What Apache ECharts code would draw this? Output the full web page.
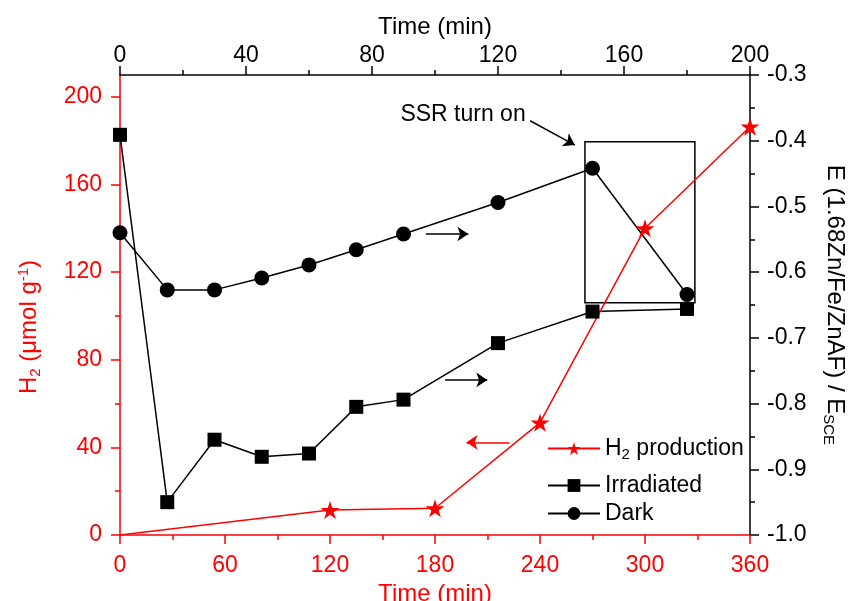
<!DOCTYPE html>
<html>
<head>
<meta charset="utf-8">
<script src="https://cdn.jsdelivr.net/npm/echarts@6/dist/echarts.min.js"></script>
<style>
  html, body { margin: 0; padding: 0; background: #fff; }
  #chart { width: 850px; height: 601px; }
</style>
</head>
<body>
<div id="chart"></div>
<script>
// H2 production vs time (bottom / left axes)
const h2Time = [0, 120, 180, 240, 300, 360];
const h2Value = [0, 11.4, 12.2, 51.3, 140, 186.4];

// potential vs time (top / right axes)
const eTime = [0, 15, 30, 45, 60, 75, 90, 120, 150, 180];
const irradiated = [-0.391, -0.950, -0.855, -0.881, -0.876, -0.805, -0.794, -0.708, -0.660, -0.656];
const dark = [-0.540, -0.627, -0.627, -0.609, -0.589, -0.566, -0.542, -0.494, -0.442, -0.634];

// left axis ticks (axis runs to 210 but labels stop at 200)
const leftTicks = [0, 40, 80, 120, 160, 200];
const leftMinor = [20, 60, 100, 140, 180];

const RED = '#ff0000';
const FONT = 'Liberation Sans, Arial, sans-serif';
const FS = 23;
const STAR = 'path://M50 0 L61.23 34.55 L97.55 34.55 L68.17 55.9 L79.39 90.45 L50 69.1 L20.61 90.45 L31.83 55.9 L2.45 34.55 L38.77 34.55 Z';

const chart = echarts.init(document.getElementById('chart'));

const axisCommon = (color) => ({
  axisLine: { show: true, onZero: false, lineStyle: { color: color, width: 1.5 } },
  axisTick: { show: true, inside: false, length: 9, lineStyle: { color: color, width: 1.5 } },
  minorTick: { show: true, splitNumber: 2, length: 5, lineStyle: { color: color, width: 1.5 } },
  splitLine: { show: false },
  minorSplitLine: { show: false },
  axisLabel: { color: color, fontSize: FS, fontFamily: FONT },
  nameTextStyle: { color: color, fontSize: 24, fontFamily: FONT }
});

const legendText = {
  color: '#000',
  fontFamily: FONT,
  fontSize: FS,
  rich: {
    n: { fontSize: FS, fontFamily: FONT, color: '#000' },
    sub: { fontSize: 15, fontFamily: FONT, color: '#000', verticalAlign: 'bottom', padding: [12, 0, 0, 0] }
  }
};

const option = {
  animation: false,
  backgroundColor: '#fff',
  grid: { left: 120, right: 100, top: 75, bottom: 66, containLabel: false, outerBoundsMode: 'none' },
  legend: [
    {
      orient: 'vertical',
      left: 547,
      top: 437,
      padding: 0,
      itemWidth: 52,
      itemHeight: 16,
      data: ['H2 production'],
      formatter: () => '{n|H}{sub|2}{n| production}',
      textStyle: legendText
    },
    {
      orient: 'vertical',
      left: 547,
      top: 474,
      padding: 0,
      itemWidth: 52,
      itemHeight: 16,
      itemGap: 5,
      data: ['Irradiated', 'Dark'],
      formatter: (name) => '{n|' + name + '}',
      textStyle: legendText
    }
  ],
  xAxis: [
    Object.assign(axisCommon(RED), {
      type: 'value', position: 'bottom', min: 0, max: 360, interval: 60,
      axisLabel: { color: RED, fontSize: FS, fontFamily: FONT, margin: 19 },
      name: 'Time (min)', nameLocation: 'middle', nameGap: 39
    }),
    Object.assign(axisCommon('#000'), {
      type: 'value', position: 'top', min: 0, max: 200, interval: 40,
      axisLabel: { color: '#000', fontSize: FS, fontFamily: FONT, margin: 8 },
      name: 'Time (min)', nameLocation: 'middle', nameGap: 36
    })
  ],
  yAxis: [
    Object.assign(axisCommon(RED), {
      type: 'value', position: 'left', min: 0, max: 210,
      axisTick: { show: true, length: 9, customValues: leftTicks, lineStyle: { color: RED, width: 1.5 } },
      minorTick: { show: false },
      axisLabel: { color: RED, fontSize: FS, fontFamily: FONT, margin: 18, customValues: leftTicks },
      name: 'H{sub|2} (μmol g{sup|-1})',
      nameLocation: 'middle', nameGap: 77, nameRotate: 90,
      nameTextStyle: {
        color: RED, fontSize: 24, fontFamily: FONT,
        padding: [0, 44, 0, 0],
        rich: {
          sub: { fontSize: 15, color: RED, fontFamily: FONT, verticalAlign: 'bottom', padding: [12, 0, 0, 0] },
          sup: { fontSize: 15, color: RED, fontFamily: FONT, verticalAlign: 'top', padding: [0, 0, 12, 0] }
        }
      }
    }),
    Object.assign(axisCommon('#000'), {
      type: 'value', position: 'right', min: -1.0, max: -0.3, interval: 0.1,
      axisLabel: {
        color: '#000', fontSize: FS, fontFamily: FONT, margin: 17,
        formatter: (v) => v.toFixed(1)
      },
      name: 'E (1.68Zn/Fe/ZnAF) / E{sub|SCE}',
      nameLocation: 'middle', nameGap: 71, nameRotate: -90,
      nameTextStyle: {
        color: '#000', fontSize: 24, fontFamily: FONT,
        rich: {
          sub: { fontSize: 15, color: '#000', fontFamily: FONT, verticalAlign: 'bottom', padding: [12, 0, 0, 0] }
        }
      }
    }),
    {
      // minor ticks of the left axis
      type: 'value', position: 'left', min: 0, max: 210,
      axisLine: { show: false },
      axisLabel: { show: false },
      splitLine: { show: false },
      axisTick: { show: true, length: 5, customValues: leftMinor, lineStyle: { color: RED, width: 1.5 } }
    }
  ],
  series: [
    {
      name: 'Irradiated',
      type: 'line',
      xAxisIndex: 1,
      yAxisIndex: 1,
      data: eTime.map((t, i) => [t, irradiated[i]]),
      symbol: 'rect',
      symbolSize: 14,
      color: '#000',
      itemStyle: { color: '#000' },
      lineStyle: { color: '#000', width: 1.5 }
    },
    {
      name: 'Dark',
      type: 'line',
      xAxisIndex: 1,
      yAxisIndex: 1,
      data: eTime.map((t, i) => [t, dark[i]]),
      symbol: 'circle',
      symbolSize: 15,
      color: '#000',
      itemStyle: { color: '#000' },
      lineStyle: { color: '#000', width: 1.5 },
      markArea: {
        silent: true,
        itemStyle: { color: 'rgba(0,0,0,0)', borderColor: '#000', borderWidth: 1.5 },
        data: [[{ xAxis: 147.6, yAxis: -0.4015 }, { xAxis: 182.5, yAxis: -0.6466 }]]
      },
      markLine: {
        silent: true,
        symbol: ['none', 'arrow'],
        symbolSize: 11,
        label: { show: false },
        lineStyle: { color: '#000', width: 1.5, type: 'solid' },
        data: [
          [{ coord: [130.2, -0.3696] }, { coord: [144.4, -0.4066] }],
          [{ coord: [97.1, -0.542] }, { coord: [110.6, -0.542] }],
          [{ coord: [103.2, -0.764] }, { coord: [116.6, -0.764] }]
        ]
      },
      markPoint: {
        silent: true,
        symbol: 'circle',
        symbolSize: 0,
        label: {
          show: true, position: 'inside', color: '#000',
          fontSize: FS, fontFamily: FONT, formatter: 'SSR turn on'
        },
        data: [{ coord: [108.9, -0.36] }]
      }
    },
    {
      name: 'H2 production',
      type: 'line',
      xAxisIndex: 0,
      yAxisIndex: 0,
      // first point sits on the axis corner and is hidden there
      data: h2Time.map((t, i) => (i === 0 ? { value: [t, h2Value[i]], symbol: 'none' } : [t, h2Value[i]])),
      symbol: STAR,
      symbolKeepAspect: true,
      symbolSize: 19,
      color: RED,
      itemStyle: { color: RED },
      lineStyle: { color: RED, width: 1.5 },
      z: 3,
      markLine: {
        silent: true,
        symbol: ['none', 'arrow'],
        symbolSize: 11,
        label: { show: false },
        lineStyle: { color: RED, width: 1.5, type: 'solid' },
        data: [
          [{ coord: [222.5, 42.3] }, { coord: [198, 42.3] }]
        ]
      }
    }
  ]
};

chart.setOption(option);
</script>
</body>
</html>
